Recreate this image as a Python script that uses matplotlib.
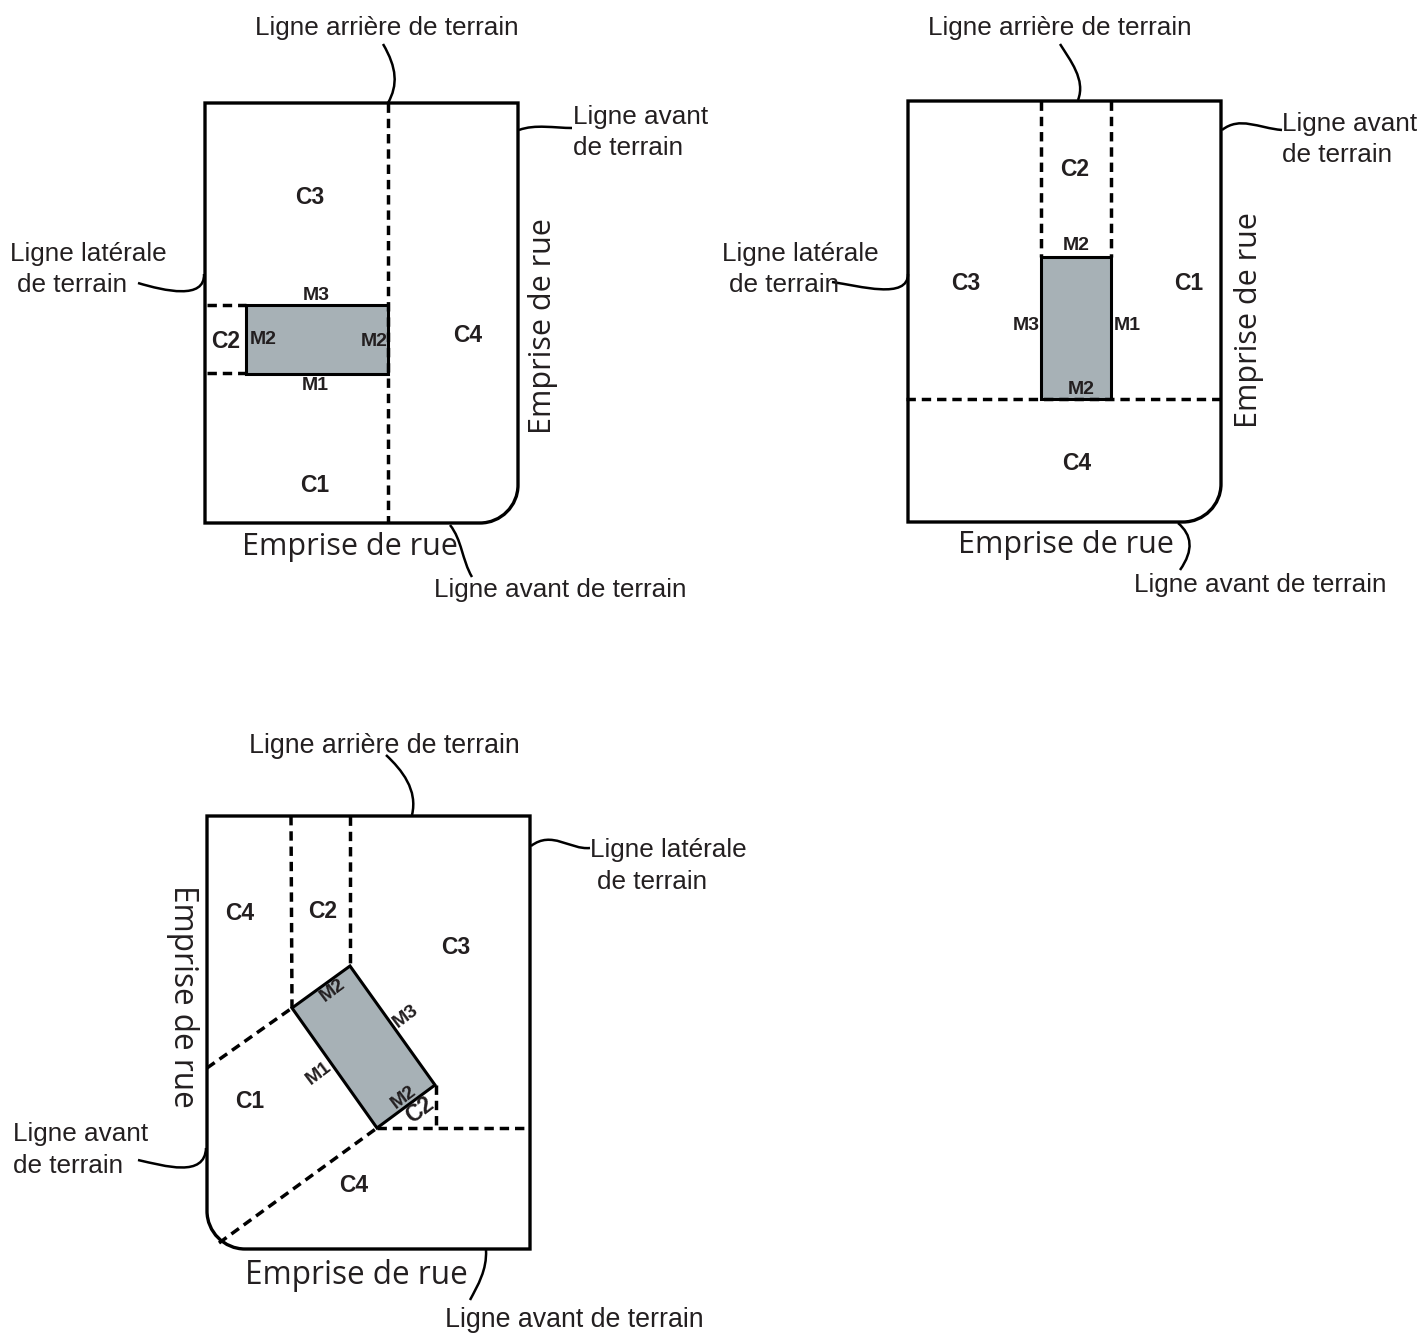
import matplotlib
matplotlib.use('Agg')
import matplotlib.pyplot as plt
from matplotlib.path import Path
from matplotlib.patches import PathPatch, Polygon

W, H = 1422, 1334
DARK = '#231f20'
GREY = '#a7b1b6'

# lot outlines: left, top, right, bottom, corner radius, rounded corner
lots = [(205, 103, 518, 523, 38, 'br'),
        (908, 101, 1221, 522, 38, 'br'),
        (207, 816, 530, 1249, 38, 'bl')]

buildings = [[(246, 305), (388, 305), (388, 374), (246, 374)],
             [(1041, 257), (1111, 257), (1111, 399), (1041, 399)],
             [(292, 1008), (350, 966), (435, 1085), (377, 1128)]]

dashed = [[(388, 103), (388, 523)], [(207, 305), (246, 305)], [(207, 373), (246, 373)],
          [(1041, 101), (1041, 257)], [(1111, 101), (1111, 257)], [(906, 399), (1221, 399)],
          [(291, 816), (292, 1008)], [(350, 816), (350, 966)], [(207, 1068), (292, 1008)],
          [(219, 1243), (377, 1128)], [(377, 1128), (530, 1128)], [(436, 1085), (436, 1128)]]

# leader lines, each a cubic bezier
leaders = [[(383, 44), (397, 68), (398, 85), (388, 103)],
           [(519, 130), (535, 124), (555, 128), (572, 128)],
           [(138, 283), (165, 291), (205, 300), (204, 274)],
           [(450, 525), (462, 540), (462, 560), (472, 577)],
           [(1060, 44), (1070, 60), (1086, 80), (1078, 100)],
           [(1222, 130), (1240, 116), (1258, 128), (1282, 130)],
           [(832, 282), (860, 286), (908, 300), (908, 274)],
           [(1178, 523), (1192, 535), (1194, 550), (1180, 570)],
           [(386, 755), (402, 770), (418, 790), (412, 815)],
           [(531, 846), (552, 830), (570, 850), (590, 848)],
           [(138, 1160), (165, 1166), (205, 1178), (206, 1148)],
           [(486, 1250), (487, 1270), (478, 1285), (470, 1300)]]

# plain labels: x, y, text
labels = [(387, 28, 'Ligne arrière de terrain'), (641, 117, 'Ligne avant'), (628, 148, 'de terrain'),
          (88, 254, 'Ligne latérale'), (72, 285, 'de terrain'), (560, 590, 'Ligne avant de terrain'),
          (1060, 28, 'Ligne arrière de terrain'), (1350, 124, 'Ligne avant'), (1337, 155, 'de terrain'),
          (800, 254, 'Ligne latérale'), (784, 285, 'de terrain'), (1260, 585, 'Ligne avant de terrain'),
          (81, 1134, 'Ligne avant'), (68, 1166, 'de terrain'),
          (668, 850, 'Ligne latérale'), (652, 882, 'de terrain')]
# the lower panel's two long labels are a little bigger
labels_big = [(384, 746, 'Ligne arrière de terrain'), (574, 1320, 'Ligne avant de terrain')]

# street labels: x, y, rotation, font size
streets = [(350, 547, 0, 22), (543, 326, 90, 22), (1066, 545, 0, 22), (1249, 320, 90, 22),
           (356, 1275, 0, 22.7), (182, 996, -90, 22.7)]

# zone and wall labels: x, y, text, rotation
zones = [(310, 198, 'C3', 0), (468, 335, 'C4', 0), (315, 485, 'C1', 0), (226, 342, 'C2', 0),
         (1075, 169, 'C2', 0), (966, 283, 'C3', 0), (1189, 283, 'C1', 0), (1077, 463, 'C4', 0),
         (240, 913, 'C4', 0), (323, 912, 'C2', 0), (456, 948, 'C3', 0), (250, 1102, 'C1', 0),
         (354, 1185, 'C4', 0), (420, 1110, 'C2', 37)]
walls = [(316, 296, 'M3', 0), (263, 339, 'M2', 0), (374, 342, 'M2', 0), (315, 386, 'M1', 0),
         (1076, 246, 'M2', 0), (1026, 325, 'M3', 0), (1127, 325, 'M1', 0), (1081, 389, 'M2', 0),
         (333, 990, 'M2', 37), (406, 1016, 'M3', 37), (319, 1073, 'M1', 37), (404, 1097, 'M2', 37)]


def lot_path(left, top, right, bottom, r, corner):
    # c is bezier handle length for a quarter circle
    c = r * 0.55
    if corner == 'br':
        verts = [(left, top), (right, top), (right, bottom - r),
                 (right, bottom - r + c), (right - r + c, bottom), (right - r, bottom),
                 (left, bottom), (left, top)]
        codes = [Path.MOVETO, Path.LINETO, Path.LINETO, Path.CURVE4, Path.CURVE4, Path.CURVE4,
                 Path.LINETO, Path.CLOSEPOLY]
    else:
        verts = [(left, top), (right, top), (right, bottom), (left + r, bottom),
                 (left + r - c, bottom), (left, bottom - r + c), (left, bottom - r),
                 (left, top)]
        codes = [Path.MOVETO, Path.LINETO, Path.LINETO, Path.LINETO, Path.CURVE4, Path.CURVE4,
                 Path.CURVE4, Path.CLOSEPOLY]
    return Path(verts, codes)


fig = plt.figure(figsize=(W / 100, H / 100), dpi=100)
ax = fig.add_axes([0, 0, 1, 1])
ax.set_xlim(0, W)
ax.set_ylim(H, 0)
ax.axis('off')

for b in buildings:
    ax.add_patch(Polygon(b, closed=True, facecolor=GREY, edgecolor='black', lw=2.2, zorder=2))

for d in dashed:
    ax.plot([d[0][0], d[1][0]], [d[0][1], d[1][1]], color='black', lw=2.5,
            dashes=(2.7, 1.7), zorder=3)

for lot in lots:
    ax.add_patch(PathPatch(lot_path(*lot), facecolor='none', edgecolor='black', lw=2.4, zorder=4))

for l in leaders:
    p = Path(l, [Path.MOVETO, Path.CURVE4, Path.CURVE4, Path.CURVE4])
    ax.add_patch(PathPatch(p, facecolor='none', edgecolor='black', lw=1.8, zorder=4))

for x, y, s in labels:
    ax.text(x, y, s, fontsize=18.8, family='Liberation Sans', color=DARK,
            ha='center', va='center', zorder=5)

for x, y, s in labels_big:
    ax.text(x, y, s, fontsize=19.3, family='Liberation Sans', color=DARK,
            ha='center', va='center', zorder=5)

for x, y, rot, size in streets:
    ax.text(x, y, 'Emprise de rue', fontsize=size, family='Open Sans', color=DARK,
            ha='center', va='center', rotation=rot, zorder=5)

for x, y, s, rot in zones:
    ax.text(x, y, s, fontsize=16.5, family='Liberation Sans', weight='bold', color=DARK,
            ha='center', va='center', rotation=rot, zorder=5)

for x, y, s, rot in walls:
    ax.text(x, y, s, fontsize=14, family='Liberation Sans', weight='bold', color=DARK,
            ha='center', va='center', rotation=rot, zorder=5)

fig.savefig('out.png', dpi=100)
